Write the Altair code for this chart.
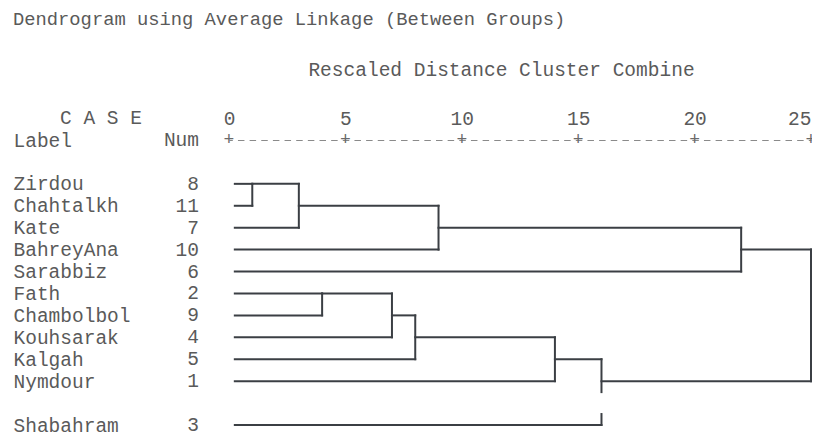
import altair as alt
import pandas as pd

# ---- data ----
names = ["Zirdou", "Chahtalkh", "Kate", "BahreyAna", "Sarabbiz", "Fath",
         "Chambolbol", "Kouhsarak", "Kalgah", "Nymdour", "Shabahram"]
nums = [8, 11, 7, 10, 6, 2, 9, 4, 5, 1, 3]
rows = [0, 1, 2, 3, 4, 5, 6, 7, 8, 9, 11]      # printed line of each case
blank_rows = [10]
# agglomeration schedule: clusters 0..10 are the cases, each merge makes 11, 12, ...
merge_a = [0, 11, 12, 13, 5, 15, 16, 17, 18, 14]
merge_b = [1, 2, 3, 4, 6, 7, 8, 9, 10, 19]
merge_d = [1, 3, 9, 22, 4, 7, 8, 14, 16, 25]   # rescaled distance
leaf_start = 0.25
tick_values = [0, 5, 10, 15, 20, 25]

FONT = "Liberation Mono"
FS = 19.5
TXT = "#5a5a5a"
LINE = "#3b3f44"

# ---- build dendrogram segments (SPSS text layout) ----
row_of = {i: rows[i] for i in range(len(names))}
start_of = {i: leaf_start for i in range(len(names))}
segs = []
for k, (a, b, d) in enumerate(zip(merge_a, merge_b, merge_d)):
    ra, rb = row_of[a], row_of[b]
    segs.append(dict(x=start_of[a], x2=d, y=ra, y2=ra))
    segs.append(dict(x=start_of[b], x2=d, y=rb, y2=rb))
    lo, hi = min(ra, rb), max(ra, rb)
    y0 = lo
    for r in blank_rows:
        if lo < r < hi:
            segs.append(dict(x=d, x2=d, y=y0, y2=r - 0.5))
            y0 = r + 0.5
    segs.append(dict(x=d, x2=d, y=y0, y2=hi))
    new = len(names) + k
    row_of[new] = (ra + rb) // 2
    start_of[new] = d
seg_df = pd.DataFrame(segs)

# y-axis labels: header line + case labels
label_rows = list(range(-2, 12))
label_text = []
for r in label_rows:
    if r == -2:
        label_text.append("Label")
    elif r in rows:
        label_text.append(names[rows.index(r)])
    else:
        label_text.append("")
label_expr = "[" + ",".join("'" + t + "'" for t in label_text) + "][datum.value + 2]"

num_df = pd.DataFrame({"row": rows + [-2], "num": [str(n) for n in nums] + ["Num"]})
case_df = pd.DataFrame({"row": [-3], "t": ["C A S E"]})
plus_df = pd.DataFrame({"x": tick_values, "p": ["+"] * len(tick_values)})

xscale = alt.Scale(domain=[0, 25], nice=False, zero=False)
yscale = alt.Scale(domain=[-2, 11], reverse=True, nice=False, zero=False)

xaxis = alt.Axis(orient="top", values=tick_values, grid=False, ticks=False, tickSize=0,
                 labelFont=FONT, labelFontSize=FS, labelColor=TXT, labelPadding=22,
                 labelBaseline="middle", labelFlush=False, labelAngle=0,
                 labelAlign={"condition": {"test": "datum.value == 25", "value": "right"},
                             "value": "center"},
                 labelOverlap=False, labelBound=False,
                 domain=True, domainColor="#8a8a8a", domainWidth=1.2,
                 domainDash=[6.5, 5.15], domainDashOffset=3.2,
                 title="Rescaled Distance Cluster Combine", titleFont=FONT,
                 titleFontSize=FS, titleFontWeight="normal", titleColor=TXT,
                 titleX=272, titleY=-71, titleAlign="center", titleBaseline="middle")
yaxis = alt.Axis(orient="left", values=label_rows, grid=False, ticks=False, tickSize=0,
                 domain=False, labelExpr=label_expr, labelAlign="left",
                 labelBaseline="middle", labelPadding=216, labelFlush=False,
                 labelFont=FONT, labelFontSize=FS, labelColor=TXT, labelBound=False,
                 labelOverlap=False, labelSeparation=0, title=None)

lines = alt.Chart(seg_df).mark_rule(color=LINE, strokeWidth=2, strokeCap="square").encode(
    x=alt.X("x:Q", scale=xscale, axis=xaxis),
    x2="x2:Q",
    y=alt.Y("y:Q", scale=yscale, axis=yaxis),
    y2="y2:Q",
)

num_col = alt.Chart(num_df).mark_text(font=FONT, fontSize=FS, color=TXT,
                                      align="right", baseline="middle").encode(
    x=alt.value(-30),
    y=alt.Y("row:Q", scale=yscale, axis=yaxis),
    text="num:N",
)

case_hdr = alt.Chart(case_df).mark_text(font=FONT, fontSize=FS, color=TXT,
                                        align="left", baseline="middle").encode(
    x=alt.value(-169),
    y=alt.Y("row:Q", scale=yscale, axis=yaxis),
    text="t:N",
)

pluses = alt.Chart(plus_df).mark_text(font=FONT, fontSize=18, color="#6a6a6a",
                                      align="center", baseline="middle").encode(
    x=alt.X("x:Q", scale=xscale, axis=xaxis),
    y=alt.value(0),
    text="p:N",
)

chart = alt.layer(lines, num_col, case_hdr, pluses).properties(
    width=582, height=285,
    title=alt.TitleParams("Dendrogram using Average Linkage (Between Groups)",
                          anchor="start", frame="bounds", font=FONT, fontSize=18.8,
                          fontWeight="normal", color=TXT, offset=30),
    autosize=alt.AutoSizeParams(type="none"),
    padding={"left": 221, "top": 132, "right": 1, "bottom": 13},
).configure(background="white").configure_view(stroke=None)

chart.save("out.html", embed_options={"renderer": "svg", "actions": False})
